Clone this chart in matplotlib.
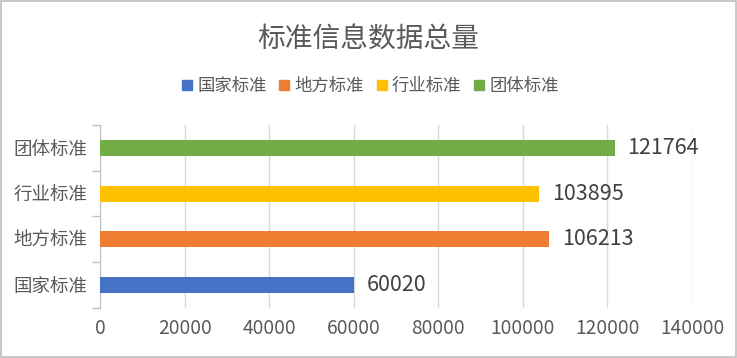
import matplotlib
matplotlib.use("Agg")
import matplotlib.pyplot as plt
from matplotlib.lines import Line2D
import numpy as np

plt.rcParams["font.family"] = ["Noto Sans CJK SC", "DejaVu Sans"]

# data
categories = ["国家标准", "地方标准", "行业标准", "团体标准"]
counts = [60020, 106213, 103895, 121764]
colors = ["#4472C4", "#ED7D31", "#FFC000", "#70AD47"]
x_ticks = [0, 20000, 40000, 60000, 80000, 100000, 120000, 140000]

text_color = "#595959"

fig = plt.figure(figsize=(7.37, 3.58), dpi=100)
ax = fig.add_axes([0.1357, 0.140, 0.8033, 0.511])

Y = np.arange(len(categories))
ax.barh(Y, counts, height=0.35, color=colors, zorder=3)

for yi, v in zip(Y, counts):
    ax.annotate(str(v), xy=(v, yi), xytext=(9, 0), textcoords="offset points",
                va="center", ha="left", fontsize=15.5, color="#404040")

ax.set_xlim(0, 140000)
ax.set_ylim(-0.5, len(categories) - 0.5)
ax.set_xticks(x_ticks)
ax.set_xticklabels([str(t) for t in x_ticks], fontsize=13.8, color=text_color)
ax.tick_params(axis="x", length=0, pad=7)
ax.grid(axis="x", color="#D9D9D9", linewidth=1, zorder=0)

# category boundaries as major ticks, labels on minor ticks
ax.set_yticks(np.arange(len(categories) + 1) - 0.5)
ax.set_yticklabels([])
ax.set_yticks(Y, minor=True)
ax.set_yticklabels(categories, minor=True, fontsize=13.3, color=text_color)
ax.tick_params(axis="y", which="major", length=6, color="#BFBFBF", width=1)
ax.tick_params(axis="y", which="minor", length=0, pad=9)

for s in ["top", "right", "bottom"]:
    ax.spines[s].set_visible(False)
ax.spines["left"].set_color("#BFBFBF")

fig.text(0.5, 0.888, "标准信息数据总量", ha="center", va="center",
         fontsize=20, color=text_color)

handles = [Line2D([], [], marker="s", linestyle="none", markersize=7,
                  markerfacecolor=c, markeredgecolor=c) for c in colors]
fig.legend(handles, categories, loc="center", bbox_to_anchor=(0.5, 0.76),
           ncol=4, frameon=False, fontsize=12.5, labelcolor=text_color,
           handletextpad=0.1, columnspacing=0.5, handlelength=1.0)

# outer chart border
fig.patches.append(plt.Rectangle((0.001, 0.002), 0.997, 0.995, transform=fig.transFigure,
                                 fill=False, edgecolor="#BFBFBF", linewidth=1.2))

fig.savefig("out.png", dpi=100)
